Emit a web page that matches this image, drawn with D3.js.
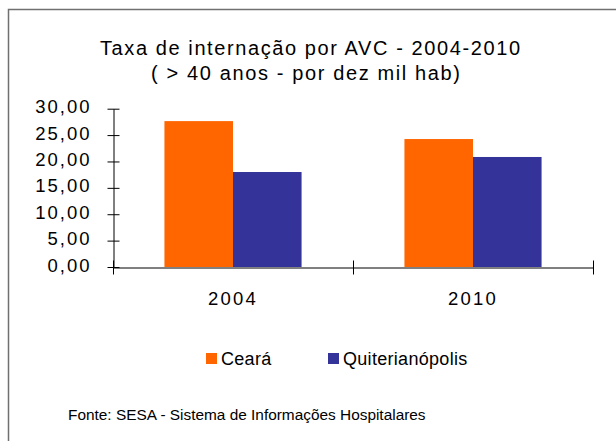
<!DOCTYPE html>
<meta charset="utf-8">
<style>
  body { margin: 0; background: #fff; }
  text { font-family: "Liberation Sans", Arial, sans-serif; fill: #000; }
</style>
<script src="https://d3js.org/d3.v7.min.js"></script>
<div id="chart"></div>
<script>

// data
var years = ["2004", "2010"];
var series = ["Ceará", "Quiterianópolis"];
var ceara = [27.65, 24.25];
var quiterianopolis = [18.0, 20.85];
var yTicks = [0, 5, 10, 15, 20, 25, 30];
var colors = ["#ff6600", "#333399"];

var rows = years.map(function(y, i) {
  return { year: y, values: [ceara[i], quiterianopolis[i]] };
});

var W = 616, H = 441;
var svg = d3.select("#chart").append("svg")
    .attr("width", W)
    .attr("height", H);

// outer frame (right and bottom edges fall outside the picture)
svg.append("rect")
    .attr("x", 8.5).attr("y", 9.5)
    .attr("width", 800).attr("height", 600)
    .attr("fill", "none")
    .attr("stroke", "#707070")
    .attr("stroke-width", 1.5);

// title
svg.append("text")
    .attr("x", 100).attr("y", 54.5)
    .attr("textLength", 420)
    .attr("lengthAdjust", "spacing")
    .style("font-size", "20px")
    .text("Taxa de internação por AVC - 2004-2010");
svg.append("text")
    .attr("x", 151).attr("y", 80)
    .attr("textLength", 309)
    .attr("lengthAdjust", "spacing")
    .style("font-size", "20px")
    .text("( > 40 anos - por dez mil hab)");

// scales
var x0 = d3.scaleBand()
    .domain(years)
    .range([113, 593])
    .padding(0);
var x1 = d3.scaleBand()
    .domain(series)
    .range([0, x0.bandwidth()])
    .paddingInner(0)
    .paddingOuter(0.75);
var y = d3.scaleLinear()
    .domain([0, 30])
    .range([267, 108.7]);

// bars
var groups = svg.selectAll("g.grp")
  .data(rows)
  .enter().append("g")
    .attr("class", "grp")
    .attr("transform", function(d) { return "translate(" + x0(d.year) + ",0)"; });
groups.selectAll("rect")
  .data(function(d) { return d.values.map(function(v, i) { return { s: series[i], v: v, i: i }; }); })
  .enter().append("rect")
    .attr("x", function(d) { return x1(d.s); })
    .attr("y", function(d) { return y(d.v); })
    .attr("width", x1.bandwidth())
    .attr("height", function(d) { return y(0) - y(d.v); })
    .attr("fill", function(d) { return colors[d.i]; });

// y axis
var yAxis = svg.append("g")
    .attr("transform", "translate(113.5,0)")
    .call(d3.axisLeft(y)
      .tickValues(yTicks)
      .tickSizeOuter(0)
      .tickPadding(16)
      .tickFormat(function(d) { return d.toFixed(2).replace(".", ","); }));
yAxis.select(".domain").attr("stroke", "#000");
yAxis.selectAll(".tick line").attr("x1", 6).attr("x2", -6).attr("stroke", "#000");
yAxis.selectAll(".tick text")
    .attr("dy", "0.22em")
    .style("font-size", "18.5px")
    .style("letter-spacing", "2px")
    .style("font-family", "'Liberation Sans', Arial, sans-serif");

// x axis
var xAxis = svg.append("g")
    .attr("transform", "translate(0,267.5)")
    .call(d3.axisBottom(x0).tickSize(0).tickSizeOuter(0).tickPadding(24));
xAxis.select(".domain").attr("stroke", "#000");
xAxis.selectAll(".tick text")
    .attr("dy", "0.71em")
    .style("font-size", "18.5px")
    .style("letter-spacing", "2.2px")
    .style("font-family", "'Liberation Sans', Arial, sans-serif");
// separator ticks between categories
var edges = years.map(function(d) { return x0(d); }).concat([x0.range()[1]]);
xAxis.selectAll("line.sep")
  .data(edges)
  .enter().append("line")
    .attr("class", "sep")
    .attr("x1", function(d) { return Math.round(d) + 0.5; })
    .attr("x2", function(d) { return Math.round(d) + 0.5; })
    .attr("y1", -7).attr("y2", 7)
    .attr("stroke", "#000");

// legend
var legendX = [206, 328];
var legend = svg.selectAll("g.leg")
  .data(series)
  .enter().append("g")
    .attr("class", "leg")
    .attr("transform", function(d, i) { return "translate(" + legendX[i] + ",353)"; });
legend.append("rect")
    .attr("width", 11).attr("height", 11)
    .attr("fill", function(d, i) { return colors[i]; });
legend.append("text")
    .attr("x", 15).attr("y", 11.5)
    .style("font-size", "18px")
    .style("letter-spacing", "0.3px")
    .text(function(d) { return d; });

// source note
svg.append("text")
    .attr("x", 68).attr("y", 420)
    .style("font-size", "15.4px")
    .style("letter-spacing", "0px")
    .text("Fonte: SESA - Sistema de Informações Hospitalares");

</script>
